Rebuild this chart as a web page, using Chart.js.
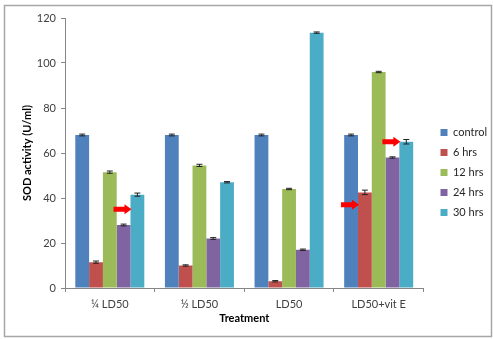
<!DOCTYPE html>
<html>
<head>
<meta charset="utf-8">
<script src="https://cdn.jsdelivr.net/npm/chart.js@4.4.0/dist/chart.umd.min.js"></script>
<style>
  html, body { margin: 0; padding: 0; background: #fff; }
  #wrap { width: 493px; height: 339px; position: relative; }
</style>
</head>
<body>
<div id="wrap"><canvas id="myChart" width="493" height="339"></canvas></div>
<script>
let treatments = ["¼ LD50", "½ LD50", "LD50", "LD50+vit E"];
let seriesnames = ["control", "6 hrs", "12 hrs", "24 hrs", "30 hrs"];
let control = [68, 68, 68, 68];
let hrs6 = [11.5, 10, 3, 42.5];
let hrs12 = [51.5, 54.5, 44, 96];
let hrs24 = [28, 22, 17, 58];
let hrs30 = [41.5, 47, 113.5, 65];
let errcontrol = [0.4, 0.4, 0.4, 0.4];
let err6 = [0.5, 0.3, 0.3, 1.0];
let err12 = [0.5, 0.5, 0.3, 0.3];
let err24 = [0.4, 0.4, 0.3, 0.3];
let err30 = [0.7, 0.3, 0.3, 1.0];
let yticks = [0, 20, 40, 60, 80, 100, 120];
// red arrows: [group, series, value]
let arrows = [[0, 4, 35], [3, 1, 37], [3, 4, 65]];

let colours = ["#4f81bd", "#c0504d", "#9bbb59", "#8064a2", "#4bacc6"];
let values = [control, hrs6, hrs12, hrs24, hrs30];
let errors = [errcontrol, err6, err12, err24, err30];

let extras = {
    id: "extras",
    afterLayout: (chart) => {
        // nudge legend to where excel put it
        let lg = chart.legend;
        lg.top -= 6; lg.bottom -= 6;
        lg.left += 8; lg.right += 8;
    },
    beforeDraw: (chart) => {
        let ctx = chart.ctx;
        ctx.save();
        ctx.fillStyle = "#fff";
        ctx.fillRect(0, 0, chart.width, chart.height);
        ctx.strokeStyle = "#a6a6a6";
        ctx.lineWidth = 1.5;
        ctx.strokeRect(4.5, 5.5, 487, 331);
        ctx.restore();
    },
    afterDatasetsDraw: (chart) => {
        let ctx = chart.ctx;
        let y = chart.scales.y;
        ctx.save();
        // error bars
        ctx.strokeStyle = "#222";
        ctx.lineWidth = 1;
        values.forEach((serie, si) => {
            let meta = chart.getDatasetMeta(si);
            serie.forEach((v, i) => {
                let bx = meta.data[i].x;
                let top = y.getPixelForValue(v + errors[si][i]);
                let bot = y.getPixelForValue(v - errors[si][i]);
                ctx.beginPath();
                ctx.moveTo(bx, top); ctx.lineTo(bx, bot);
                ctx.moveTo(bx - 3, top); ctx.lineTo(bx + 3, top);
                ctx.moveTo(bx - 3, bot); ctx.lineTo(bx + 3, bot);
                ctx.stroke();
            });
        });
        // arrows
        ctx.fillStyle = "#ff0000";
        arrows.forEach(a => {
            let bar = chart.getDatasetMeta(a[1]).data[a[0]];
            let tip = bar.x - bar.width / 2 + 1;
            let ay = y.getPixelForValue(a[2]);
            ctx.beginPath();
            ctx.moveTo(tip - 18, ay - 2.5);
            ctx.lineTo(tip - 7, ay - 2.5);
            ctx.lineTo(tip - 7, ay - 5);
            ctx.lineTo(tip, ay);
            ctx.lineTo(tip - 7, ay + 5);
            ctx.lineTo(tip - 7, ay + 2.5);
            ctx.lineTo(tip - 18, ay + 2.5);
            ctx.closePath();
            ctx.fill();
        });
        ctx.restore();
    }
};

let ctx = document.getElementById("myChart").getContext("2d");
let chart = new Chart(ctx, {
    type: "bar",
    data: {
        labels: treatments,
        datasets: values.map((serie, si) => ({
            label: seriesnames[si],
            data: serie,
            backgroundColor: colours[si],
            borderWidth: 0,
            categoryPercentage: 0.77,
            barPercentage: 1
        }))
    },
    options: {
        responsive: false,
        animation: false,
        layout: { padding: { top: 18, right: 4, bottom: 0, left: 0 } },
        plugins: {
            tooltip: { enabled: false },
            legend: {
                position: "right",
                labels: {
                    font: { family: "Lato", size: 11 },
                    color: "#262626",
                    boxWidth: 7,
                    boxHeight: 7,
                    padding: 9
                }
            }
        },
        scales: {
            x: {
                grid: { display: true, drawOnChartArea: false, offset: true, tickLength: 4, color: "#868686" },
                border: { color: "#868686" },
                ticks: { font: { family: "Lato", size: 11 }, color: "#404040", padding: 6 },
                title: { display: true, text: "Treatment", font: { family: "Lato", size: 11, weight: "bold" }, color: "#000", padding: { bottom: 14 } },
                afterFit: (s) => { s.height = 339 - 288; }
            },
            y: {
                min: 0,
                max: 120,
                afterBuildTicks: (s) => { s.ticks = yticks.map(v => ({ value: v })); },
                grid: { display: true, drawOnChartArea: false, tickLength: 4, color: "#868686" },
                border: { color: "#868686" },
                ticks: { font: { family: "Lato", size: 11 }, color: "#404040", padding: 5 },
                title: { display: true, text: "SOD activity (U/ml)", font: { family: "Lato", size: 11, weight: "bold" }, color: "#000", padding: { top: 21 } },
                afterFit: (s) => { s.width = 65; }
            }
        }
    },
    plugins: [extras]
});
</script>
</body>
</html>
